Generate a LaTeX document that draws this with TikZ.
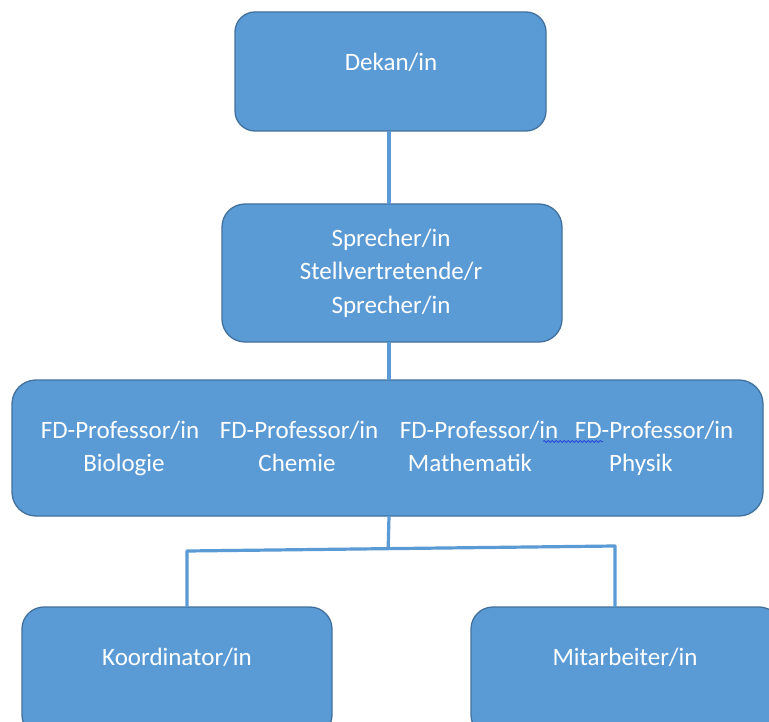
\documentclass[tikz,border=0pt]{standalone}
\usepackage{fontspec}
\setmainfont{Carlito}
\usetikzlibrary{decorations.pathmorphing,calc}
\definecolor{boxfill}{HTML}{5B9BD5}
\definecolor{boxline}{HTML}{41719C}
\definecolor{spell}{HTML}{2A4BD7}
\begin{document}
\begin{tikzpicture}[x=1pt,y=-1pt,
  orgbox/.style={draw=boxline, line width=1.3pt, fill=boxfill, inner sep=0pt, outer sep=0pt},
  lbl/.style={text=white, font=\fontsize{25}{33}\selectfont, anchor=base, inner sep=0pt},
  conn/.style={draw=boxfill, line width=3.2pt, line join=round}]
\clip (0,0) rectangle (769,722);
\fill[white] (0,0) rectangle (769,722);
% boxes
\node[orgbox, rounded corners=20pt, minimum width=311pt, minimum height=119pt] (dekan) at (390.5,71.5) {};
\node[orgbox, rounded corners=23pt, minimum width=340pt, minimum height=138pt] (sprecher) at (392,273) {};
\node[orgbox, rounded corners=24pt, minimum width=751pt, minimum height=136pt] (fd) at (387.5,448) {};
\node[orgbox, rounded corners=22pt, minimum width=310pt, minimum height=130pt] (koord) at (177,672) {};
\node[orgbox, rounded corners=22pt, minimum width=310pt, minimum height=130pt] (mitarb) at (626,672) {};
% connectors
\coordinate (jl) at (187,551);
\coordinate (jr) at (615,546);
\draw[conn] (dekan.south -| 389,0) -- (sprecher.north -| 389,0);
\draw[conn] (sprecher.south -| 389,0) -- (fd.north -| 389,0);
\draw[conn] (fd.south -| 389,0) -- ($(jl)!0.47!(jr)$);
\draw[conn] (koord.north -| jl) -- (jl) -- (jr) -- (mitarb.north -| jr);
% labels
\node[lbl] (tdekan) at (391,71) {Dekan/in};
\node[lbl] (tsp1) at (391,247) {Sprecher/in};
\node[lbl] (tsv) at (391,280) {Stellvertretende/r};
\node[lbl] (tsp2) at (391,313) {Sprecher/in};
\node[lbl] (fd1) at (120,438) {FD-Professor/in};
\node[lbl] (fd2) at (299,438) {FD-Professor/in};
\node[lbl] (fd3) at (479,438) {FD-Professor/in};
\node[lbl] (fd4) at (654,438) {FD-Professor/in};
\node[lbl] (bio) at (124,471) {Biologie};
\node[lbl] (che) at (297,471) {Chemie};
\node[lbl] (mat) at (470,471) {Mathematik};
\node[lbl] (phy) at (641,471) {Physik};
\node[lbl] (tkoord) at (177,665) {Koordinator/in};
\node[lbl] (tmitarb) at (625,665) {Mitarbeiter/in};
% spell-check squiggle
\draw[spell, line width=0.8pt, decorate, decoration={snake, segment length=4pt, amplitude=1.1pt}] (543,441.5) -- (603,441.5);
\end{tikzpicture}
\end{document}
